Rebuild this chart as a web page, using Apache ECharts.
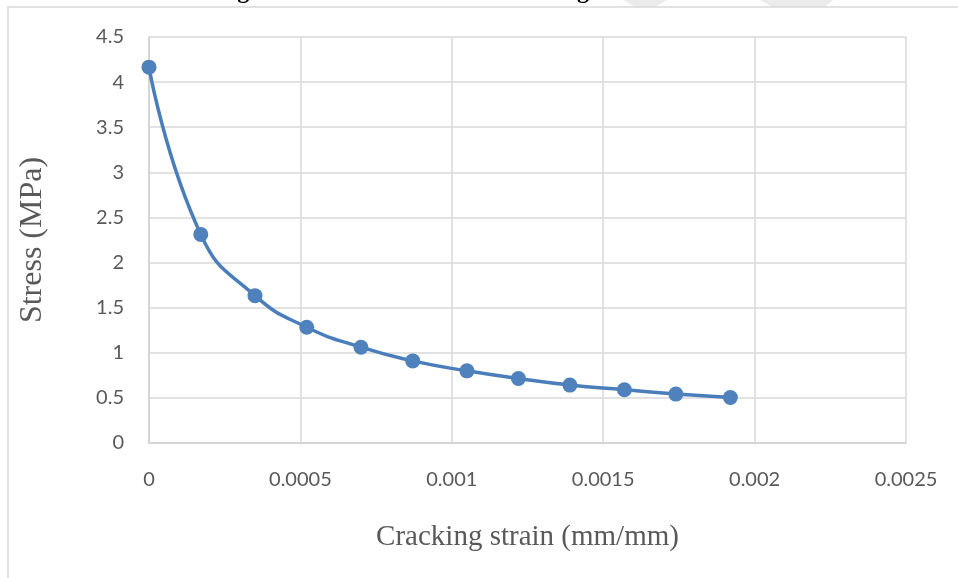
<!DOCTYPE html>
<html>
<head>
<meta charset="utf-8">
<script src="https://cdn.jsdelivr.net/npm/echarts@6/dist/echarts.min.js"></script>
<style>html,body{margin:0;padding:0;background:#fff}#c{width:958px;height:578px}</style>
</head>
<body>
<div id="c"></div>
<script>
var strain = [0, 0.000171, 0.00035, 0.000521, 0.0007, 0.000871, 0.00105, 0.00122, 0.00139, 0.00157, 0.00174, 0.00192];
var stress = [4.166, 2.312, 1.633, 1.283, 1.062, 0.910, 0.800, 0.715, 0.642, 0.590, 0.542, 0.504];
var xTicks = [0, 0.0005, 0.001, 0.0015, 0.002, 0.0025];
var yTicks = [0, 0.5, 1, 1.5, 2, 2.5, 3, 3.5, 4, 4.5];
var titleText = 'Figure 3: Tensile Stress vs. Cracking Strain';
var xTitle = 'Cracking strain (mm/mm)';
var yTitle = 'Stress (MPa)';

var chart = echarts.init(document.getElementById('c'), null, {renderer: 'canvas'});
var pts = strain.map(function (x, i) { return [x, stress[i]]; });
chart.setOption({
  animation: false,
  backgroundColor: '#fff',
  graphic: [
    {type: 'polygon', silent: true, z: 0, shape: {points: [[623,0],[667,0],[655,7],[635,7]]}, style: {fill: '#ebebeb'}},
    {type: 'polygon', silent: true, z: 0, shape: {points: [[760,0],[833,0],[825,7],[772,7]]}, style: {fill: '#ebebeb'}},
    {type: 'text', z: 2, left: 216, top: -20, style: {text: titleText, font: 'bold 24px "Liberation Serif"', fill: '#000'}},
    {type: 'rect', silent: true, z: 1, shape: {x: 8, y: 7, width: 1000, height: 600}, style: {fill: 'none', stroke: '#d9d9d9', lineWidth: 1.5}}
  ],
  grid: {left: 149, top: 37, right: 52, bottom: 135, containLabel: false},
  xAxis: {
    type: 'value', min: 0, max: 0.0025, interval: 0.0005,
    name: xTitle, nameLocation: 'middle', nameGap: 80,
    nameTextStyle: {fontFamily: 'Liberation Serif', fontSize: 29, color: '#595959'},
    axisLine: {show: true, lineStyle: {color: '#d0d0d0', width: 1.5}},
    axisTick: {show: false},
    splitLine: {show: true, lineStyle: {color: '#d9d9d9', width: 1.5}},
    axisLabel: {margin: 27, fontFamily: 'Lato', fontSize: 20, color: '#595959',
      formatter: function (v) { return String(+v.toFixed(4)); }}
  },
  yAxis: {
    type: 'value', min: 0, max: 4.5, interval: 0.5,
    name: yTitle, nameLocation: 'middle', nameGap: 100, nameRotate: 90,
    nameTextStyle: {fontFamily: 'Liberation Serif', fontSize: 32, color: '#595959'},
    axisLine: {show: true, lineStyle: {color: '#d0d0d0', width: 1.5}},
    axisTick: {show: false},
    splitLine: {show: true, lineStyle: {color: '#d9d9d9', width: 1.5}},
    axisLabel: {margin: 25, fontFamily: 'Lato', fontSize: 20, color: '#595959',
      formatter: function (v) { return String(+v.toFixed(1)); }}
  },
  series: [{
    type: 'line', data: pts, smooth: 0.5,
    symbol: 'circle', symbolSize: 15,
    lineStyle: {color: '#4a7ebb', width: 3.5},
    itemStyle: {color: '#4f81bd'}
  }]
});
</script>
</body>
</html>
